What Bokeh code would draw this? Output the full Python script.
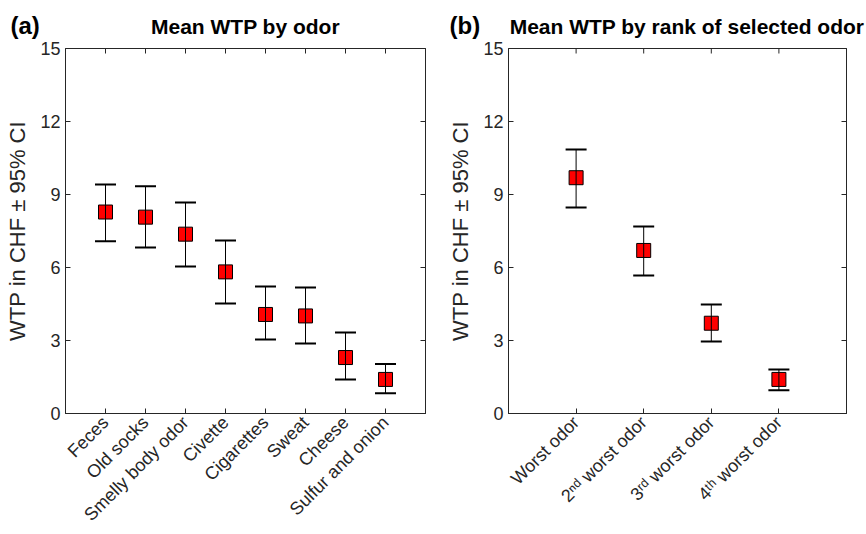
import math
from bokeh.plotting import figure
from bokeh.layouts import row
from bokeh.models import (ColumnDataSource, Whisker, TeeHead, FixedTicker, LinearAxis,
                          Range1d, Label, Title, CustomLabelingPolicy)
from bokeh.embed import file_html
from bokeh.resources import INLINE

# ---- data ----
odors = ["Feces", "Old socks", "Smelly body odor", "Civette", "Cigarettes", "Sweat",
         "Cheese", "Sulfur and onion"]
odor_mean = [8.28, 8.07, 7.37, 5.82, 4.07, 4.01, 2.30, 1.40]
odor_upper = [9.41, 9.34, 8.67, 7.11, 5.22, 5.18, 3.33, 2.03]
odor_lower = [7.08, 6.82, 6.04, 4.52, 3.04, 2.88, 1.40, 0.83]

ranks = ["Worst odor", "2\u207f\u1d48 worst odor", "3\u02b3\u1d48 worst odor",
         "4\u1d57\u02b0 worst odor"]
rank_mean = [9.69, 6.70, 3.71, 1.40]
rank_upper = [10.85, 7.69, 4.48, 1.81]
rank_lower = [8.47, 5.67, 2.96, 0.96]

y_ticks = [0, 3, 6, 9, 12, 15]
Y_MAX = 15

FONT = "Liberation Sans"
AX = "#262626"
H = 534


def no_labels():
    return CustomLabelingPolicy(code="""
        for (const i of Array.from(indices)) { indices.unset(i) }
        return indices
    """)


def make_panel(labels, mean, upper, lower, title, tag, width, left, right, tag_offset):
    n = len(labels)
    xs = list(range(1, n + 1))
    p = figure(width=width, height=H, output_backend="svg", toolbar_location=None,
               x_range=Range1d(0, n + 1), y_range=Range1d(0, Y_MAX),
               min_border_left=left, min_border_right=right, min_border_top=48,
               min_border_bottom=121)
    p.title.visible = False
    p.grid.visible = False
    p.outline_line_color = AX
    p.outline_line_alpha = 1

    src = ColumnDataSource(dict(x=xs, m=mean, u=upper, l=lower))
    w = Whisker(source=src, base="x", upper="u", lower="l", line_color="black", line_width=1,
                upper_head=TeeHead(size=21, line_width=2, line_color="black"),
                lower_head=TeeHead(size=21, line_width=2, line_color="black"),
                level="glyph")
    p.add_layout(w)
    p.scatter("x", "m", source=src, marker="square", size=14, fill_color="red",
              line_color="black", line_width=1)

    # inward tick marks on the top edge of the box
    p.ray(x=xs, y=[Y_MAX] * n, length=5, length_units="screen", angle=-math.pi / 2,
          line_color=AX, line_width=1)

    for ax in p.xaxis:
        ax.ticker = FixedTicker(ticks=xs)
        ax.major_label_overrides = {i: lab for i, lab in zip(xs, labels)}
        ax.major_label_orientation = math.pi / 4
        ax.major_label_standoff = 6
    for ax in p.yaxis:
        ax.ticker = FixedTicker(ticks=y_ticks)
        ax.axis_label = "WTP in CHF \u00b1 95% CI"
        ax.axis_label_text_font_style = "normal"
        ax.axis_label_text_font_size = "22px"
        ax.axis_label_standoff = 7
    for ax in p.axis:
        ax.major_label_text_font = FONT
        ax.axis_label_text_font = FONT
        ax.major_label_text_font_size = "18px"
        ax.major_label_text_color = AX
        ax.axis_label_text_color = AX
        ax.axis_line_color = AX
        ax.major_tick_line_color = AX
        ax.major_tick_in = 5
        ax.major_tick_out = 0
        ax.minor_tick_line_color = None

    rgt = LinearAxis(ticker=FixedTicker(ticks=y_ticks), major_label_policy=no_labels(),
                     major_tick_in=5, major_tick_out=0, axis_line_color=AX,
                     major_tick_line_color=AX, minor_tick_line_color=None)
    p.add_layout(rgt, "right")

    frame_w = width - left - right
    main = Label(x=frame_w / 2, y=22, x_units="screen", y_units="screen", text=title,
                 text_font=FONT, text_font_size="21px", text_font_style="bold",
                 text_color="black", text_align="center", text_baseline="alphabetic")
    p.add_layout(main, "above")
    tag_t = Title(text=tag, align="left", offset=tag_offset, vertical_align="bottom",
                  standoff=-26, text_font=FONT, text_font_size="24px",
                  text_font_style="bold", text_color="black")
    p.add_layout(tag_t, "above")
    return p


pa = make_panel(odors, odor_mean, odor_upper, odor_lower, "Mean WTP by odor", "(a)",
                445, 65, 20, -55)
pb = make_panel(ranks, rank_mean, rank_upper, rank_lower,
                "Mean WTP by rank of selected odor", "(b)", 421, 61, 3, -59)

layout = row(pa, pb)
open("out.html", "w").write(file_html(layout, INLINE))
